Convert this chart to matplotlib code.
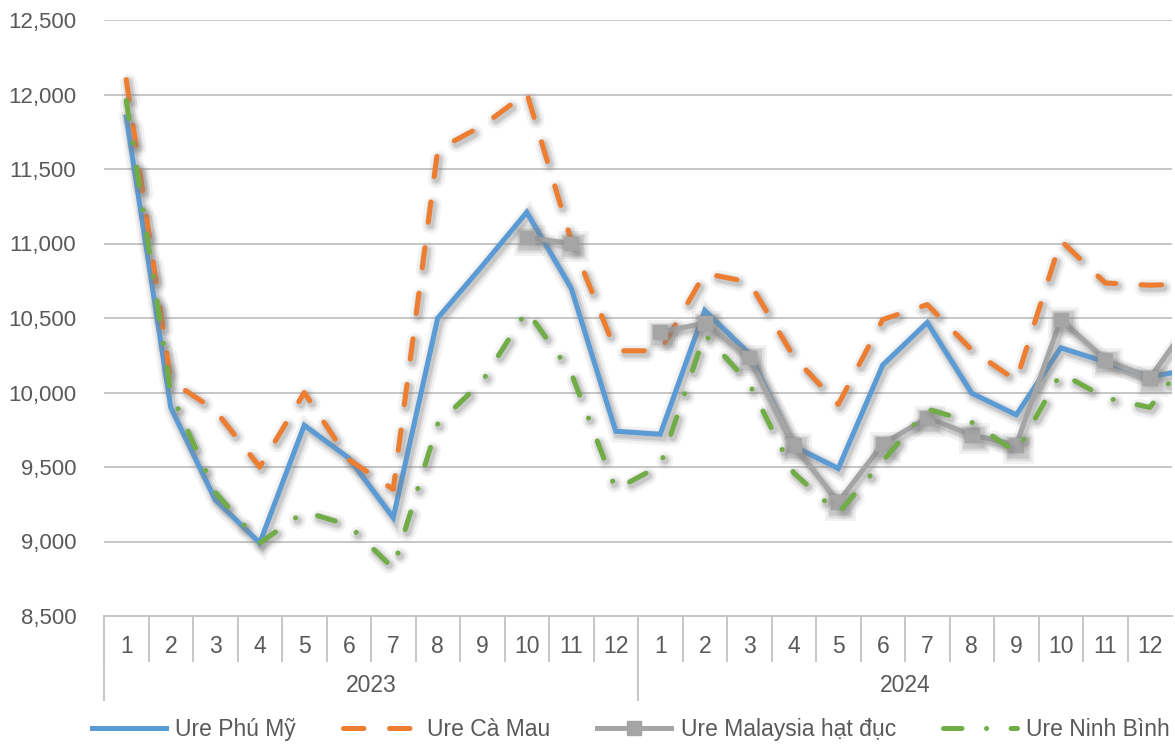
import numpy as np
import matplotlib
matplotlib.use("Agg")
import matplotlib.pyplot as plt
import matplotlib.patheffects as pe
import matplotlib.transforms as mtransforms

plt.rcParams['font.family'] = ['Liberation Sans', 'DejaVu Sans']

# categories: months of 2023 and 2024 (last point belongs to the cropped next month)
months = [str(m) for m in range(1, 13)] * 2
years = ['2023', '2024']

nan = np.nan
phu_my = [11850, 9900, 9280, 8990, 9780, 9560, 9160, 10500, 10850, 11210, 10700, 9740,
          9720, 10550, 10260, 9640, 9490, 10185, 10470, 9995, 9850, 10300, 10205, 10105, 10160]
ca_mau = [12100, 10080, 9880, 9500, 10000, 9550, 9350, 11630, 11790, 12010, 11020, 10280,
          10280, 10800, 10740, 10240, 9920, 10490, 10590, 10285, 10080, 11020, 10735, 10720, 10730]
malaysia = [nan, nan, nan, nan, nan, nan, nan, nan, nan, 11040, 11000, nan,
            10405, 10466, 10235, 9645, 9265, 9655, 9830, 9715, 9648, 10490, 10220, 10097, 10515]
ninh_binh = [11960, 10000, 9330, 8990, 9200, 9110, 8820, 9790, 10075, 10550, 10130, 9350,
             9510, 10390, 10060, 9460, 9190, 9540, 9890, 9800, 9600, 10130, 9965, 9900, 10280]

labels = ['Ure Phú Mỹ', 'Ure Cà Mau', 'Ure Malaysia hạt đục', 'Ure Ninh Bình']
colors = ['#5B9BD5', '#ED7D31', '#A5A5A5', '#70AD47']

grid_c = '#C6C6C6'
text_c = '#595959'
lw = 3.6


def shadow(w):
    return [pe.SimpleLineShadow(offset=(1.5, -2), shadow_color='#808080', alpha=0.10, linewidth=w * 3.4),
            pe.SimpleLineShadow(offset=(1.5, -2), shadow_color='#808080', alpha=0.16, linewidth=w * 2.3),
            pe.SimpleLineShadow(offset=(1.5, -2), shadow_color='#808080', alpha=0.24, linewidth=w * 1.5),
            pe.Normal()]


fig = plt.figure(figsize=(11.75, 7.44), dpi=100)
ax = fig.add_axes([104 / 1175, (744 - 616) / 744, (1172 - 104) / 1175, 596 / 744])

x = np.arange(len(phu_my)) + 0.5

l1, = ax.plot(x, phu_my, color=colors[0], lw=lw, solid_joinstyle='miter', label=labels[0])
l2, = ax.plot(x, ca_mau, color=colors[1], lw=lw, ls=(0, (4.1, 5.1)), dash_capstyle='round',
              label=labels[1])
l3, = ax.plot(x, malaysia, color=colors[2], lw=lw, marker='s', markersize=10,
              markeredgecolor=colors[2], label=labels[2])
l4, = ax.plot(x, ninh_binh, color=colors[3], lw=lw, ls=(0, (3.7, 4.9, 0.01, 4.9)),
              dash_capstyle='round', label=labels[3])
for ln in (l1, l2, l3, l4):
    ln.set_path_effects(shadow(lw))

ax.set_xlim(0, 24)
ax.set_ylim(8500, 12500)
ax.set_yticks(np.arange(8500, 12501, 500))
ax.set_yticklabels([f'{v:,}' for v in range(8500, 12501, 500)])
ax.yaxis.grid(True, color=grid_c, lw=1.4)
ax.set_axisbelow(True)

for s in ['top', 'right', 'left']:
    ax.spines[s].set_visible(False)
ax.spines['bottom'].set_color(grid_c)
ax.spines['bottom'].set_linewidth(1.4)

ax.tick_params(axis='y', length=0, pad=20, labelsize=16, labelcolor=text_c)
ax.set_xticks(np.arange(24) + 0.5)
ax.set_xticklabels(months)
ax.tick_params(axis='x', which='major', length=0, pad=14, labelsize=16.5, labelcolor=text_c)
ax.set_xticks(np.arange(24), minor=True)
ax.tick_params(axis='x', which='minor', length=33, width=1.4, color=grid_c)

trans = mtransforms.blended_transform_factory(ax.transData, ax.transAxes)
for i, yr in enumerate(years):
    ax.plot([i * 12, i * 12], [0, -84 / 596], transform=trans, color=grid_c, lw=1.4,
            clip_on=False)
    ax.text(i * 12 + 6, -70 / 596, yr, transform=trans, ha='center', va='center',
            fontsize=16.5, color=text_c)

leg = fig.legend(handles=[l1, l2, l3, l4], loc='center', bbox_to_anchor=(0.537, 0.019),
                 ncol=4, frameon=False, fontsize=16.5, handlelength=3.25,
                 handletextpad=0.4, columnspacing=2.05, numpoints=1, borderaxespad=0)
for h in leg.legend_handles:
    h.set_path_effects([])
for t in leg.get_texts():
    t.set_color(text_c)

fig.savefig('out.png', dpi=100)
